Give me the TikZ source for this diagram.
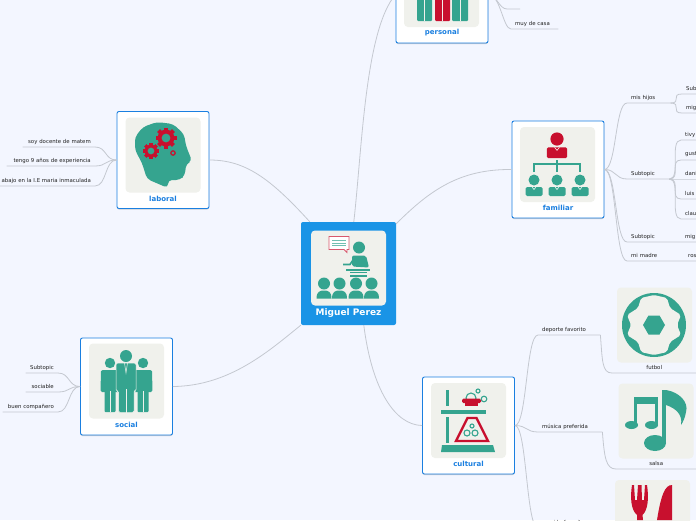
\documentclass[tikz,border=0pt]{standalone}
\usepackage{fontspec}
\setmainfont{DejaVu Sans}
\usepackage{xcolor}
\usetikzlibrary{shadows}

\definecolor{pagebg}{HTML}{F3F6FF}
\definecolor{linkgray}{HTML}{C4C8D0}
\definecolor{cardblue}{HTML}{1A7FE0}
\definecolor{rootblue}{HTML}{1A94E6}
\definecolor{tilebg}{HTML}{F0F1EC}
\definecolor{iconteal}{HTML}{35A48F}
\definecolor{iconred}{HTML}{C8102E}
\definecolor{leafink}{HTML}{222222}

\newcommand{\gearicon}[3]{%
  \foreach \a in {0,45,...,315} {
    \fill[iconred, rotate around={\a:(#1,#2)}] (#1-#3*.2,#2-#3) rectangle (#1+#3*.2,#2);
  }
  \fill[iconred] (#1,#2) circle[radius=#3*.8];
  \fill[iconteal] (#1,#2) circle[radius=#3*.42];
}

\tikzset{
  pics/seated/.style={code={
    \fill[iconteal] (0,0) circle[radius=6];
    \fill[iconteal] (-7.5,15) .. controls (-7.5,8) and (-4,7) .. (0,7) .. controls (4,7) and (7.5,8) .. (7.5,15) -- cycle;
  }},
  pics/suited/.style={code={
    \fill[#1] (0,0) circle[radius=5.5];
    \fill[#1, rounded corners=1.5] (-8.5,16) -- (-8.5,7) -- (8.5,7) -- (8.5,16) -- cycle;
    \draw[white, line width=.5] (-2,7) -- (0,9.5) -- (2,7);
  }},
  pics/standing/.style={code={
    \fill[iconteal] (0,0) circle[radius=5.2];
    \fill[iconteal, rounded corners=1.5] (-9,7) -- (9,7) -- (9.5,29) -- (-9.5,29) -- cycle;
    \fill[iconteal, rounded corners=1] (-5.5,25) rectangle (5.5,49);
    \draw[tilebg, line width=.5] (0,28) -- (0,49);
  }}
}

\begin{document}
\begin{tikzpicture}[
  x=1pt, y=-1pt,
  card/.style={
    rectangle,
    rounded corners=2pt,
    draw=cardblue,
    fill=white,
    line width=.9pt,
    minimum width=92pt,
    minimum height=97pt,
    drop shadow={shadow xshift=0pt, shadow yshift=-1pt, opacity=.35, fill=gray}
  },
  root/.style={
    rectangle,
    rounded corners=2pt,
    fill=rootblue,
    minimum width=95pt,
    minimum height=103pt
  },
  tile/.style={
    rectangle,
    rounded corners=4pt,
    fill=tilebg,
    minimum width=75pt,
    minimum height=75pt
  },
  cardlabel/.style={text=cardblue, font=\fontsize{7}{8}\selectfont\bfseries},
  leftleaf/.style={
    anchor=south east,
    inner xsep=4pt, inner ysep=0pt,
    minimum height=10.5pt,
    text width=#1,
    align=right,
    text=leafink,
    font=\fontsize{5.4}{6}\selectfont
  },
  rightleaf/.style={
    anchor=south west,
    inner xsep=4pt, inner ysep=0pt,
    minimum height=10.5pt,
    text width=#1,
    align=left,
    text=leafink,
    font=\fontsize{5.4}{6}\selectfont
  },
  iconleaf/.style={
    anchor=south west,
    inner xsep=0pt, inner ysep=0pt,
    minimum height=10.5pt,
    minimum width=#1,
    align=center,
    text=leafink,
    font=\fontsize{5.4}{6}\selectfont
  },
  link/.style={draw=linkgray, line width=.8pt},
  sweep/.style={out=0, in=180, distance=12pt},
  backsweep/.style={out=180, in=0, distance=12pt}
]

\path[use as bounding box, clip] (0,0) rectangle (696,520);
\fill[pagebg] (0,0) rectangle (696,520);

% ===================== cards =====================
\node[root] (central) at (348.5,273.5) {};
\node[tile] (centraltile) at (348.5,268) {};
\node[font=\fontsize{9}{10}\selectfont\bfseries, text=white] (centrallabel) at (348.5,313.5) {Miguel Perez};

\node[card] (laboral) at (163,160) {};
\node[tile] (laboraltile) at (163,155) {};
\node[cardlabel] (laborallabel) at (163,198.5) {laboral};

\node[card] (personal) at (442,-5.5) {};
\node[tile] (personaltile) at (441.5,-10.5) {};
\node[cardlabel] (personallabel) at (442,32.5) {personal};

\node[card] (familiar) at (558,169.5) {};
\node[tile] (familiartile) at (557.5,164.5) {};
\node[cardlabel] (familiarlabel) at (558,207.5) {familiar};

\node[card] (cultural) at (468.5,425.5) {};
\node[tile] (culturaltile) at (468.5,420.5) {};
\node[cardlabel] (culturallabel) at (468.5,463.5) {cultural};

\node[card] (social) at (126.5,386.5) {};
\node[tile] (socialtile) at (126.5,381) {};
\node[cardlabel] (sociallabel) at (126.5,424.5) {social};

\node[tile] (futboltile) at (654.5,325) {};
\node[tile] (salsatile) at (656,421) {};
\node[tile] (comidatile) at (652.5,517.5) {};

% ===================== main branches =====================
\draw[link] ([xshift=9pt]central.north west) .. controls (270,178) and (245,160) .. (laboral.east);
\draw[link] ([xshift=53pt]central.north west) .. controls (362,150) and (365,30) .. (personal.west);
\draw[link] ([yshift=-2pt]central.north east) .. controls (430,190) and (460,169) .. (familiar.west);
\draw[link] (central.south west) .. controls (270,350) and (230,386) .. (social.east);
\draw[link] ([xshift=63pt]central.south west) .. controls (372,390) and (395,425) .. (cultural.west);

% ===================== laboral =====================
\node[leftleaf=64pt] (docente) at (95,147) {soy docente de matem};
\node[leftleaf=80pt] (experiencia) at (95,166) {tengo 9 años de experiencia};
\node[leftleaf=100pt] (trabajo) at (95,186) {abajo en la I.E maria inmaculada};
\draw[link] (laboral.west) to[backsweep] (docente.south east) -- (docente.south west);
\draw[link] (laboral.west) to[backsweep] (experiencia.south east) -- (experiencia.south west);
\draw[link] (laboral.west) to[backsweep] (trabajo.south east) -- (trabajo.south west);

% ===================== social =====================
\node[leftleaf=24pt] (subsocial) at (58,373) {Subtopic};
\node[leftleaf=24pt] (sociable) at (58,392) {sociable};
\node[leftleaf=47pt] (companero) at (58,412) {buen compañero};
\draw[link] (social.west) to[backsweep] (subsocial.south east) -- (subsocial.south west);
\draw[link] (social.west) to[backsweep] (sociable.south east) -- (sociable.south west);
\draw[link] (social.west) to[backsweep] (companero.south east) -- (companero.south west);

% ===================== personal =====================
\coordinate (blankstart) at (507,9);
\coordinate (blankend) at (520,9);
\node[rightleaf=39pt] (casa) at (511,29) {muy de casa};
\draw[link] (personal.east) .. controls +(8,0) and +(-8,0) .. (blankstart) -- (blankend);
\draw[link] (personal.east) .. controls +(12,0) and +(-8,0) .. (casa.south west) -- (casa.south east);

% ===================== familiar =====================
\node[rightleaf=35pt] (hijos) at (627,103) {mis hijos};
\node[rightleaf=34pt] (subhijos) at (627,179) {Subtopic};
\node[rightleaf=46pt] (subfam) at (627,242) {Subtopic};
\node[rightleaf=49pt] (madre) at (627,261) {mi madre};
\node[rightleaf=40pt] (sub) at (682,94) {Sub};
\node[rightleaf=40pt] (mighijos) at (682,113) {mig};
\node[rightleaf=40pt] (tivy) at (681,140) {tivy};
\node[rightleaf=40pt] (gust) at (681,160) {gust};
\node[rightleaf=40pt] (dani) at (681,179) {dani};
\node[rightleaf=40pt] (luis) at (681,199) {luis};
\node[rightleaf=40pt] (clau) at (681,219) {clau};
\node[rightleaf=40pt] (migfam) at (681,242) {mig};
\node[rightleaf=40pt] (ros) at (684,261) {ros};

\draw[link] (familiar.east) to[sweep] (hijos.south west) -- (hijos.south east);
\draw[link] (familiar.east) to[sweep] (subhijos.south west) -- (subhijos.south east);
\draw[link] (familiar.east) to[sweep] (subfam.south west) -- (subfam.south east) -- (migfam.south east);
\draw[link] (familiar.east) to[sweep] (madre.south west) -- (madre.south east) -- (ros.south east);

\foreach \leaf in {sub,mighijos} {
  \draw[link] (hijos.south east) to[sweep] (\leaf.south west) -- (\leaf.south east);
}
\foreach \leaf in {tivy,gust,dani,luis,clau} {
  \draw[link] (subhijos.south east) to[sweep] (\leaf.south west) -- (\leaf.south east);
}

% ===================== cultural =====================
\node[rightleaf=54pt] (deporte) at (538,335) {deporte favorito};
\node[rightleaf=56pt] (musica) at (538,432) {música preferida};
\node[rightleaf=60pt] (comida) at (538,528) {comida favorita};
\node[iconleaf=84pt] (futbol) at (612,373) {futbol};
\node[iconleaf=80pt] (salsa) at (616,469) {salsa};

\draw[link] (cultural.east) to[sweep] (deporte.south west) -- (deporte.south east);
\draw[link] (cultural.east) to[sweep] (musica.south west) -- (musica.south east);
\draw[link] (cultural.east) to[sweep] (comida.south west) -- (comida.south east);
\draw[link] (deporte.south east) .. controls +(2,26) and +(-10,0) .. (futbol.south west) -- (futbol.south east);
\draw[link] (musica.south east) .. controls +(2,26) and +(-10,0) .. (salsa.south west) -- (salsa.south east);

% ===================== icons =====================
% presenter
\begin{scope}[shift={(311,230.5)}]
  \draw[iconred!70, fill=white, line width=.8pt] (18,6) -- (38,6) -- (38,19) -- (36,19) -- (36,22) -- (33,19) -- (18,19) -- cycle;
  \foreach \y in {10,12.5,15} {
    \draw[iconteal!70, line width=.6pt] (21,\y) -- (35,\y);
  }
  \fill[iconteal] (48,17) circle[radius=6];
  \fill[iconteal, rounded corners=2] (41,36) -- (41,25) -- (55,25) -- (58,37) -- cycle;
  \draw[iconteal, line width=1.6pt] (43,28) -- (39,34) -- (32,34);
  \fill[iconteal] (35,38) rectangle (59,40);
  \fill[iconteal] (39,41) rectangle (56,42.5);
  \fill[iconteal] (39,44) rectangle (56,46);
  \foreach \x in {13,28.5,45,60.5} {
    \pic at (\x,53) {seated};
  }
\end{scope}

% head with gears
\begin{scope}[shift={(126,118)}]
  \fill[iconteal, rounded corners=4] (21,61) -- (16,45) -- (9,32) -- (9,19) -- (17,9) -- (31,4) -- (47,6) -- (58,16) -- (60,28) -- (66,43) -- (60,46) -- (59,57) -- (54,62) -- (42,62) -- (42,70) -- cycle;
  \gearicon{40}{20}{10.5}
  \gearicon{25}{33}{8}
  \draw[iconred, line width=1.2pt] (47,35) circle[radius=2.2];
\end{scope}

% group of three, red one in the middle, cut by the top edge
\begin{scope}[shift={(404,-48)}]
  \fill[iconteal, rounded corners=1] (13,30) rectangle (28,69);
  \fill[iconred, rounded corners=1] (31,30) rectangle (46,69);
  \fill[iconteal, rounded corners=1] (48,30) rectangle (64,69);
  \foreach \x in {20.5,38.5,56} {
    \draw[tilebg, line width=.5pt] (\x,45) -- (\x,69);
  }
\end{scope}

% group of three
\begin{scope}[shift={(89,344)}]
  \pic at (21,19) {standing};
  \pic at (54,19) {standing};
  \fill[iconteal] (37,12) circle[radius=6];
  \fill[iconteal, rounded corners=1.5, draw=tilebg, line width=.5pt] (27,19) -- (47,19) -- (47,47) -- (45,47) -- (45,68.5) -- (29.5,68.5) -- (29.5,47) -- (27,47) -- cycle;
  \draw[tilebg, line width=.5pt] (37,45) -- (37,68.5);
  \draw[tilebg, line width=.5pt] (35.5,19) -- (37,29) -- (38.5,19);
\end{scope}

% organisation chart
\begin{scope}[shift={(520,127)}]
  \pic[scale=1.2] at (37,12) {suited=iconred};
  \draw[iconteal, line width=1.2pt] (37,33) -- (37,45) (14,45) -- (14,37) -- (60,37) -- (60,45);
  \foreach \x in {14,37,60} {
    \pic at (\x,53) {suited=iconteal};
  }
\end{scope}

% flask and stand
\begin{scope}[shift={(431,383)}]
  \fill[iconteal] (15,7) rectangle (18,23);
  \fill[iconteal] (10,27) rectangle (55,31);
  \fill[iconteal] (15,34) rectangle (18,60);
  \fill[iconteal] (11,62) -- (62,62) -- (64,69) -- (10,69) -- cycle;
  \draw[iconred, line width=2.3pt, line join=miter] (36.5,35) -- (45.5,35) -- (57,58) -- (25,58) -- cycle;
  \draw[iconteal, line width=1.1pt] (36,50) circle[radius=3] (44,50) circle[radius=3] (41,43) circle[radius=2];
  \draw[iconteal, line width=1.1pt] (40,15) circle[radius=5] (53,16) circle[radius=2.8] (47,8) circle[radius=2];
  \fill[iconred, rounded corners=1.5] (31,15.5) rectangle (50,20);
  \fill[iconred] (34,18) rectangle (47,23);
\end{scope}

% football
\begin{scope}[shift={(617,288)}]
  \fill[iconteal] (37,37) circle[radius=32];
  \fill[tilebg, rounded corners=2] (24,10) -- (37,7) -- (50,10) -- (53,20) -- (64,27) -- (60,37) -- (64,47) -- (53,54) -- (50,64) -- (37,67) -- (24,64) -- (21,54) -- (10,47) -- (14,37) -- (10,27) -- (21,20) -- cycle;
  \fill[iconteal] (48,37) -- (42.5,27.5) -- (31.5,27.5) -- (26,37) -- (31.5,46.5) -- (42.5,46.5) -- cycle;
\end{scope}

% music notes
\begin{scope}[shift={(619,384)}]
  \fill[iconteal] (15,13) rectangle (39,20);
  \fill[iconteal] (15,13) rectangle (18,41);
  \fill[iconteal] (36,13) rectangle (39,41);
  \fill[iconteal] (12.5,41) ellipse[x radius=6.5, y radius=4];
  \fill[iconteal] (32.5,41) ellipse[x radius=6.5, y radius=4];
  \fill[iconteal] (43,6) rectangle (47,58);
  \fill[iconteal] (36,59) ellipse[x radius=11, y radius=8];
  \fill[iconteal] (47,6) .. controls (60,8) and (70,18) .. (67,28) .. controls (66,34) and (64,38) .. (62,41) .. controls (64,30) and (56,24) .. (47,21) -- cycle;
\end{scope}

% fork and knife
\begin{scope}[shift={(615,480)}]
  \fill[iconred] (17,5) -- (19,5) -- (20,20) -- (22,20) -- (23,5) -- (26.5,5) -- (27,20) -- (29,20) -- (30,5) -- (32,5) .. controls (34,18) and (33,30) .. (27.5,35) -- (28,40) -- (22,40) -- (22,35) .. controls (16,30) and (15,18) .. (17,5) -- cycle;
  \fill[iconred] (57,5) .. controls (50,5) and (46,15) .. (42,40) -- (57,40) -- cycle;
\end{scope}

\end{tikzpicture}
\end{document}
